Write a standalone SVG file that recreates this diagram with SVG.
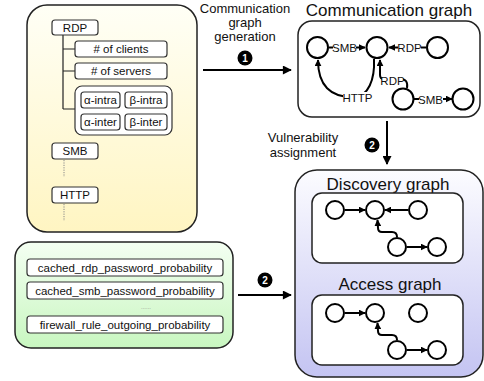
<svg xmlns="http://www.w3.org/2000/svg" width="484" height="381" viewBox="0 0 484 381">
<defs>
<linearGradient id="gY" x1="0" y1="0" x2="0" y2="1"><stop offset="0" stop-color="#fffff6"/><stop offset="1" stop-color="#fff5c2"/></linearGradient>
<linearGradient id="gG" x1="0" y1="0" x2="0" y2="1"><stop offset="0" stop-color="#f4fff2"/><stop offset="1" stop-color="#c8f6c0"/></linearGradient>
<linearGradient id="gB" x1="0" y1="0" x2="0" y2="1"><stop offset="0" stop-color="#fcfcff"/><stop offset="1" stop-color="#c4c4f2"/></linearGradient>
<marker id="big" viewBox="0 0 10 10" refX="9" refY="5" markerWidth="10" markerHeight="9" orient="auto" markerUnits="userSpaceOnUse"><path d="M0,0 L10,5 L0,10 z" fill="#000"/></marker>
<marker id="sm" viewBox="0 0 10 10" refX="9" refY="5" markerWidth="7" markerHeight="7" orient="auto" markerUnits="userSpaceOnUse"><path d="M0,0 L10,5 L0,10 z" fill="#000"/></marker>
</defs>
<style>
text{font-family:"Liberation Sans",Arial,sans-serif;fill:#111}
.t{font-size:11.5px;text-anchor:middle}
.title{font-size:17px;text-anchor:middle}
.step{font-size:13px;text-anchor:middle}
.box{fill:#fff;stroke:#333;stroke-width:1.2}
.outer{stroke:#222;stroke-width:1.5}
.tree{fill:none;stroke:#222;stroke-width:1.2}
.dot{fill:none;stroke:#888;stroke-width:1;stroke-dasharray:1.2 1.2}
.n{fill:#fff;stroke:#000;stroke-width:2}
.e{fill:none;stroke:#000;stroke-width:2}
.lbg{fill:#fff}
.badge{fill:#000}
.bn{font-size:10px;font-weight:bold;text-anchor:middle;fill:#fff}
.arrow{fill:none;stroke:#000;stroke-width:2}
</style>

<g id="config">
<rect class="outer" x="27" y="5" width="170" height="227" rx="20" fill="url(#gY)"/>
<path class="tree" d="M63 35 V109 M63 49 H75 M63 71 H75 M63 109 H75"/>
<line class="dot" x1="64" y1="160" x2="64" y2="177"/>
<line class="dot" x1="64" y1="204" x2="64" y2="221"/>
<g id="rdp"><rect class="box" x="52" y="20" width="46" height="15" rx="3"/><text class="t" x="75" y="31.5">RDP</text></g>
<g id="clients"><rect class="box" x="75" y="41" width="92" height="16" rx="3"/><text class="t" x="121" y="53">#&#160;of clients</text></g>
<g id="servers"><rect class="box" x="75" y="63" width="92" height="16" rx="3"/><text class="t" x="121" y="75">#&#160;of servers</text></g>
<g id="params">
<rect class="box" x="75" y="86" width="97" height="49" rx="7"/>
<rect class="box" x="81" y="92" width="39" height="16" rx="3"/><text class="t" x="100.5" y="104">α-intra</text>
<rect class="box" x="125" y="92" width="42" height="16" rx="3"/><text class="t" x="146" y="104">β-intra</text>
<rect class="box" x="81" y="114" width="39" height="16" rx="3"/><text class="t" x="100.5" y="126">α-inter</text>
<rect class="box" x="125" y="114" width="42" height="16" rx="3"/><text class="t" x="146" y="126">β-inter</text>
</g>
<g id="smb"><rect class="box" x="52" y="143" width="46" height="16" rx="3"/><text class="t" x="75" y="155">SMB</text></g>
<g id="http"><rect class="box" x="52" y="187" width="46" height="16" rx="3"/><text class="t" x="75" y="199">HTTP</text></g>
</g>

<g id="probs">
<rect class="outer" x="15" y="242" width="218" height="106" rx="16" fill="url(#gG)"/>
<rect class="box" x="27" y="259" width="196" height="17" rx="3"/><text class="t" x="125" y="271.5">cached_rdp_password_probability</text>
<rect class="box" x="27" y="282" width="196" height="17" rx="3"/><text class="t" x="125" y="294.5">cached_smb_password_probability</text>
<text x="146" y="309" style="font-size:6px;text-anchor:middle;fill:#888">......</text>
<rect class="box" x="27" y="316" width="196" height="17" rx="3"/><text class="t" x="125" y="328.5">firewall_rule_outgoing_probability</text>
</g>

<g id="commgraph">
<text class="title" x="389" y="16">Communication graph</text>
<rect class="outer" x="298" y="21" width="182" height="96" rx="14" fill="#fff"/>
<line class="e" x1="329" y1="47.5" x2="365" y2="47.5" marker-end="url(#sm)"/>
<line class="e" x1="426" y1="47.5" x2="389" y2="47.5" marker-end="url(#sm)"/>
<path class="e" d="M374 59 C375 80 368 96 355 97 C330 98 318 85 318 60" marker-end="url(#sm)"/>
<path class="e" d="M407 88 C408 82 406 79 400 79 L384 79 Q380 79 380 75 L380 60" marker-end="url(#sm)"/>
<line class="e" x1="414" y1="99" x2="452" y2="99" marker-end="url(#sm)"/>
<rect class="lbg" x="333" y="42" width="23" height="11"/><text class="t" x="344.5" y="51.5">SMB</text>
<rect class="lbg" x="398" y="42" width="23" height="11"/><text class="t" x="409.5" y="51.5">RDP</text>
<rect class="lbg" x="343" y="92" width="29" height="11"/><text class="t" x="357.5" y="101.5">HTTP</text>
<rect class="lbg" x="382" y="75" width="21" height="11"/><text class="t" x="392.5" y="84.5">RDP</text>
<rect class="lbg" x="419" y="94" width="24" height="11"/><text class="t" x="430.5" y="103.5">SMB</text>
<circle class="n" cx="317.5" cy="47.5" r="10.5"/>
<circle class="n" cx="377" cy="47.5" r="10.5"/>
<circle class="n" cx="437.5" cy="47.5" r="10.5"/>
<circle class="n" cx="403" cy="99" r="10.5"/>
<circle class="n" cx="463" cy="99" r="10.5"/>
</g>

<g id="vulngraphs">
<rect class="outer" x="295" y="170" width="188" height="207" rx="22" fill="url(#gB)"/>
<g id="discovery">
<text class="title" x="388" y="190">Discovery graph</text>
<rect class="outer" x="312" y="193" width="151" height="70" rx="10" fill="#fff"/>
<line class="e" x1="345" y1="210" x2="365" y2="210" marker-end="url(#sm)"/>
<line class="e" x1="408" y1="210" x2="385" y2="210" marker-end="url(#sm)"/>
<path class="e" d="M397 237 Q397 232 392 232 L382 232 Q378 232 378 228 L377.5 220" marker-end="url(#sm)"/>
<line class="e" x1="407" y1="247" x2="427" y2="247" marker-end="url(#sm)"/>
<circle class="n" cx="335" cy="210" r="9"/>
<circle class="n" cx="375" cy="210" r="9"/>
<circle class="n" cx="418" cy="210" r="9"/>
<circle class="n" cx="397" cy="247" r="9"/>
<circle class="n" cx="437" cy="247" r="9"/>
</g>
<g id="access">
<text class="title" x="390" y="290">Access graph</text>
<rect class="outer" x="312" y="295" width="151" height="70" rx="10" fill="#fff"/>
<line class="e" x1="345" y1="313" x2="365" y2="313" marker-end="url(#sm)"/>
<path class="e" d="M397 340 Q397 335 392 335 L382 335 Q378 335 378 331 L377.5 323" marker-end="url(#sm)"/>
<line class="e" x1="407" y1="350" x2="427" y2="350" marker-end="url(#sm)"/>
<circle class="n" cx="335" cy="313" r="9"/>
<circle class="n" cx="375" cy="313" r="9"/>
<circle class="n" cx="418" cy="313" r="9"/>
<circle class="n" cx="397" cy="350" r="9"/>
<circle class="n" cx="437" cy="350" r="9"/>
</g>
</g>

<g id="connectors">
<line class="arrow" x1="203" y1="70" x2="291" y2="70" marker-end="url(#big)"/>
<text class="step" x="245" y="12.5">Communication</text>
<text class="step" x="245" y="26.5">graph</text>
<text class="step" x="245" y="40.5">generation</text>
<circle class="badge" cx="245" cy="58" r="7.5"/><text class="bn" x="245" y="61.5">1</text>
<line class="arrow" x1="387" y1="121" x2="387" y2="164" marker-end="url(#big)"/>
<text class="step" x="303" y="142">Vulnerability</text>
<text class="step" x="303" y="157">assignment</text>
<circle class="badge" cx="372" cy="145" r="7.5"/><text class="bn" x="372" y="148.5">2</text>
<line class="arrow" x1="238" y1="295" x2="291" y2="295" marker-end="url(#big)"/>
<circle class="badge" cx="265" cy="280" r="7.5"/><text class="bn" x="265" y="283.5">2</text>
</g>
</svg>
